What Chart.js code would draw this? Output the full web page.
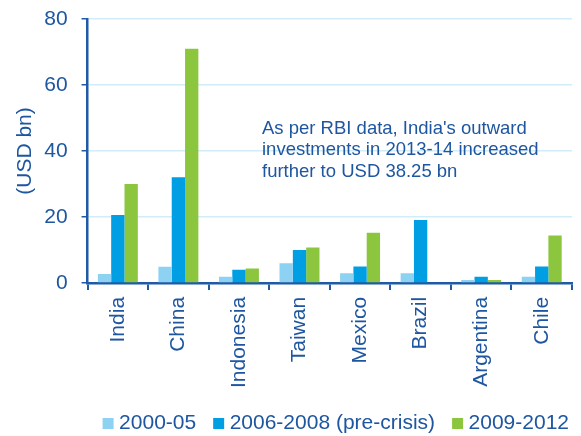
<!DOCTYPE html>
<html><head><meta charset="utf-8">
<script src="https://cdn.jsdelivr.net/npm/chart.js@4/dist/chart.umd.min.js"></script>
<style>html,body{margin:0;padding:0;background:#fff}#w{width:581px;height:436px}</style>
</head><body><div id="w"><canvas id="c"></canvas></div>
<script>
const categories = ["India","China","Indonesia","Taiwan","Mexico","Brazil","Argentina","Chile"];
const s2000_05 = [2.7,4.9,1.9,6,2.9,2.9,0.9,1.9];
const s2006_08 = [20.6,32,4,10,5,19.1,1.9,5];
const s2009_12 = [30,71,4.4,10.7,15.2,0,0.9,14.4];
const seriesNames = ["2000-05","2006-2008 (pre-crisis)","2009-2012"];
const yTicks = [0,20,40,60,80];
const note = ["As per RBI data, India's outward","investments in 2013-14 increased","further to USD 38.25 bn"];

const TXT = '#1e56a0';
const AX = '#1f5aa6';
const FONT = 'Arial, "Liberation Sans", sans-serif';

const notePlugin = {
  id:'note',
  afterLayout(chart){
    if (chart.legend) { chart.legend.left += 19; chart.legend.right += 19; }
  },
  afterDatasetsDraw(chart){
    const ctx = chart.ctx;
    ctx.save();
    ctx.font = '18.5px ' + FONT;
    ctx.fillStyle = TXT;
    ctx.textBaseline = 'middle';
    ctx.textAlign = 'left';
    note.forEach((t,i)=>ctx.fillText(t, 262, 128.5 + i*21.5));
    ctx.restore();
  }
};

new Chart(document.getElementById('c'), {
  type:'bar',
  data:{
    labels:categories,
    datasets:[
      {label:seriesNames[0], data:s2000_05, backgroundColor:'#8dd1f3'},
      {label:seriesNames[1], data:s2006_08, backgroundColor:'#009fe3'},
      {label:seriesNames[2], data:s2009_12, backgroundColor:'#8cc63f'}
    ]
  },
  options:{
    responsive:true, maintainAspectRatio:false, animation:false,
    layout:{padding:{top:19,right:9,left:13,bottom:-8}},
    datasets:{bar:{categoryPercentage:0.66, barPercentage:1.0}},
    plugins:{
      legend:{position:'bottom', align:'end', labels:{color:TXT, font:{family:FONT,size:21}, usePointStyle:true, pointStyle:'rect', boxWidth:1, boxHeight:11, padding:22}},
      tooltip:{enabled:false}
    },
    scales:{
      x:{
        afterFit(s){ s.height -= 4; },
        grid:{display:true, drawOnChartArea:false, drawTicks:true, tickLength:7, tickColor:AX, lineWidth:2, offset:true},
        border:{color:AX, width:2.5},
        ticks:{color:TXT, font:{family:FONT,size:21}, minRotation:90, maxRotation:90, padding:7}
      },
      y:{
        min:0,max:80,
        afterBuildTicks(a){a.ticks = yTicks.map(v=>({value:v}));},
        afterFit(s){ s.paddingTop = 0; s.paddingBottom = 0; },
        grid:{color:'#d3ecf9', lineWidth:1.5, tickColor:AX, tickLength:6},
        border:{color:AX, width:2.5},
        ticks:{color:TXT, font:{family:FONT,size:21}, padding:14},
        title:{display:true, text:'(USD bn)', color:TXT, font:{family:FONT,size:21}, padding:{top:0,bottom:-8}}
      }
    }
  },
  plugins:[notePlugin]
});
</script></body></html>
